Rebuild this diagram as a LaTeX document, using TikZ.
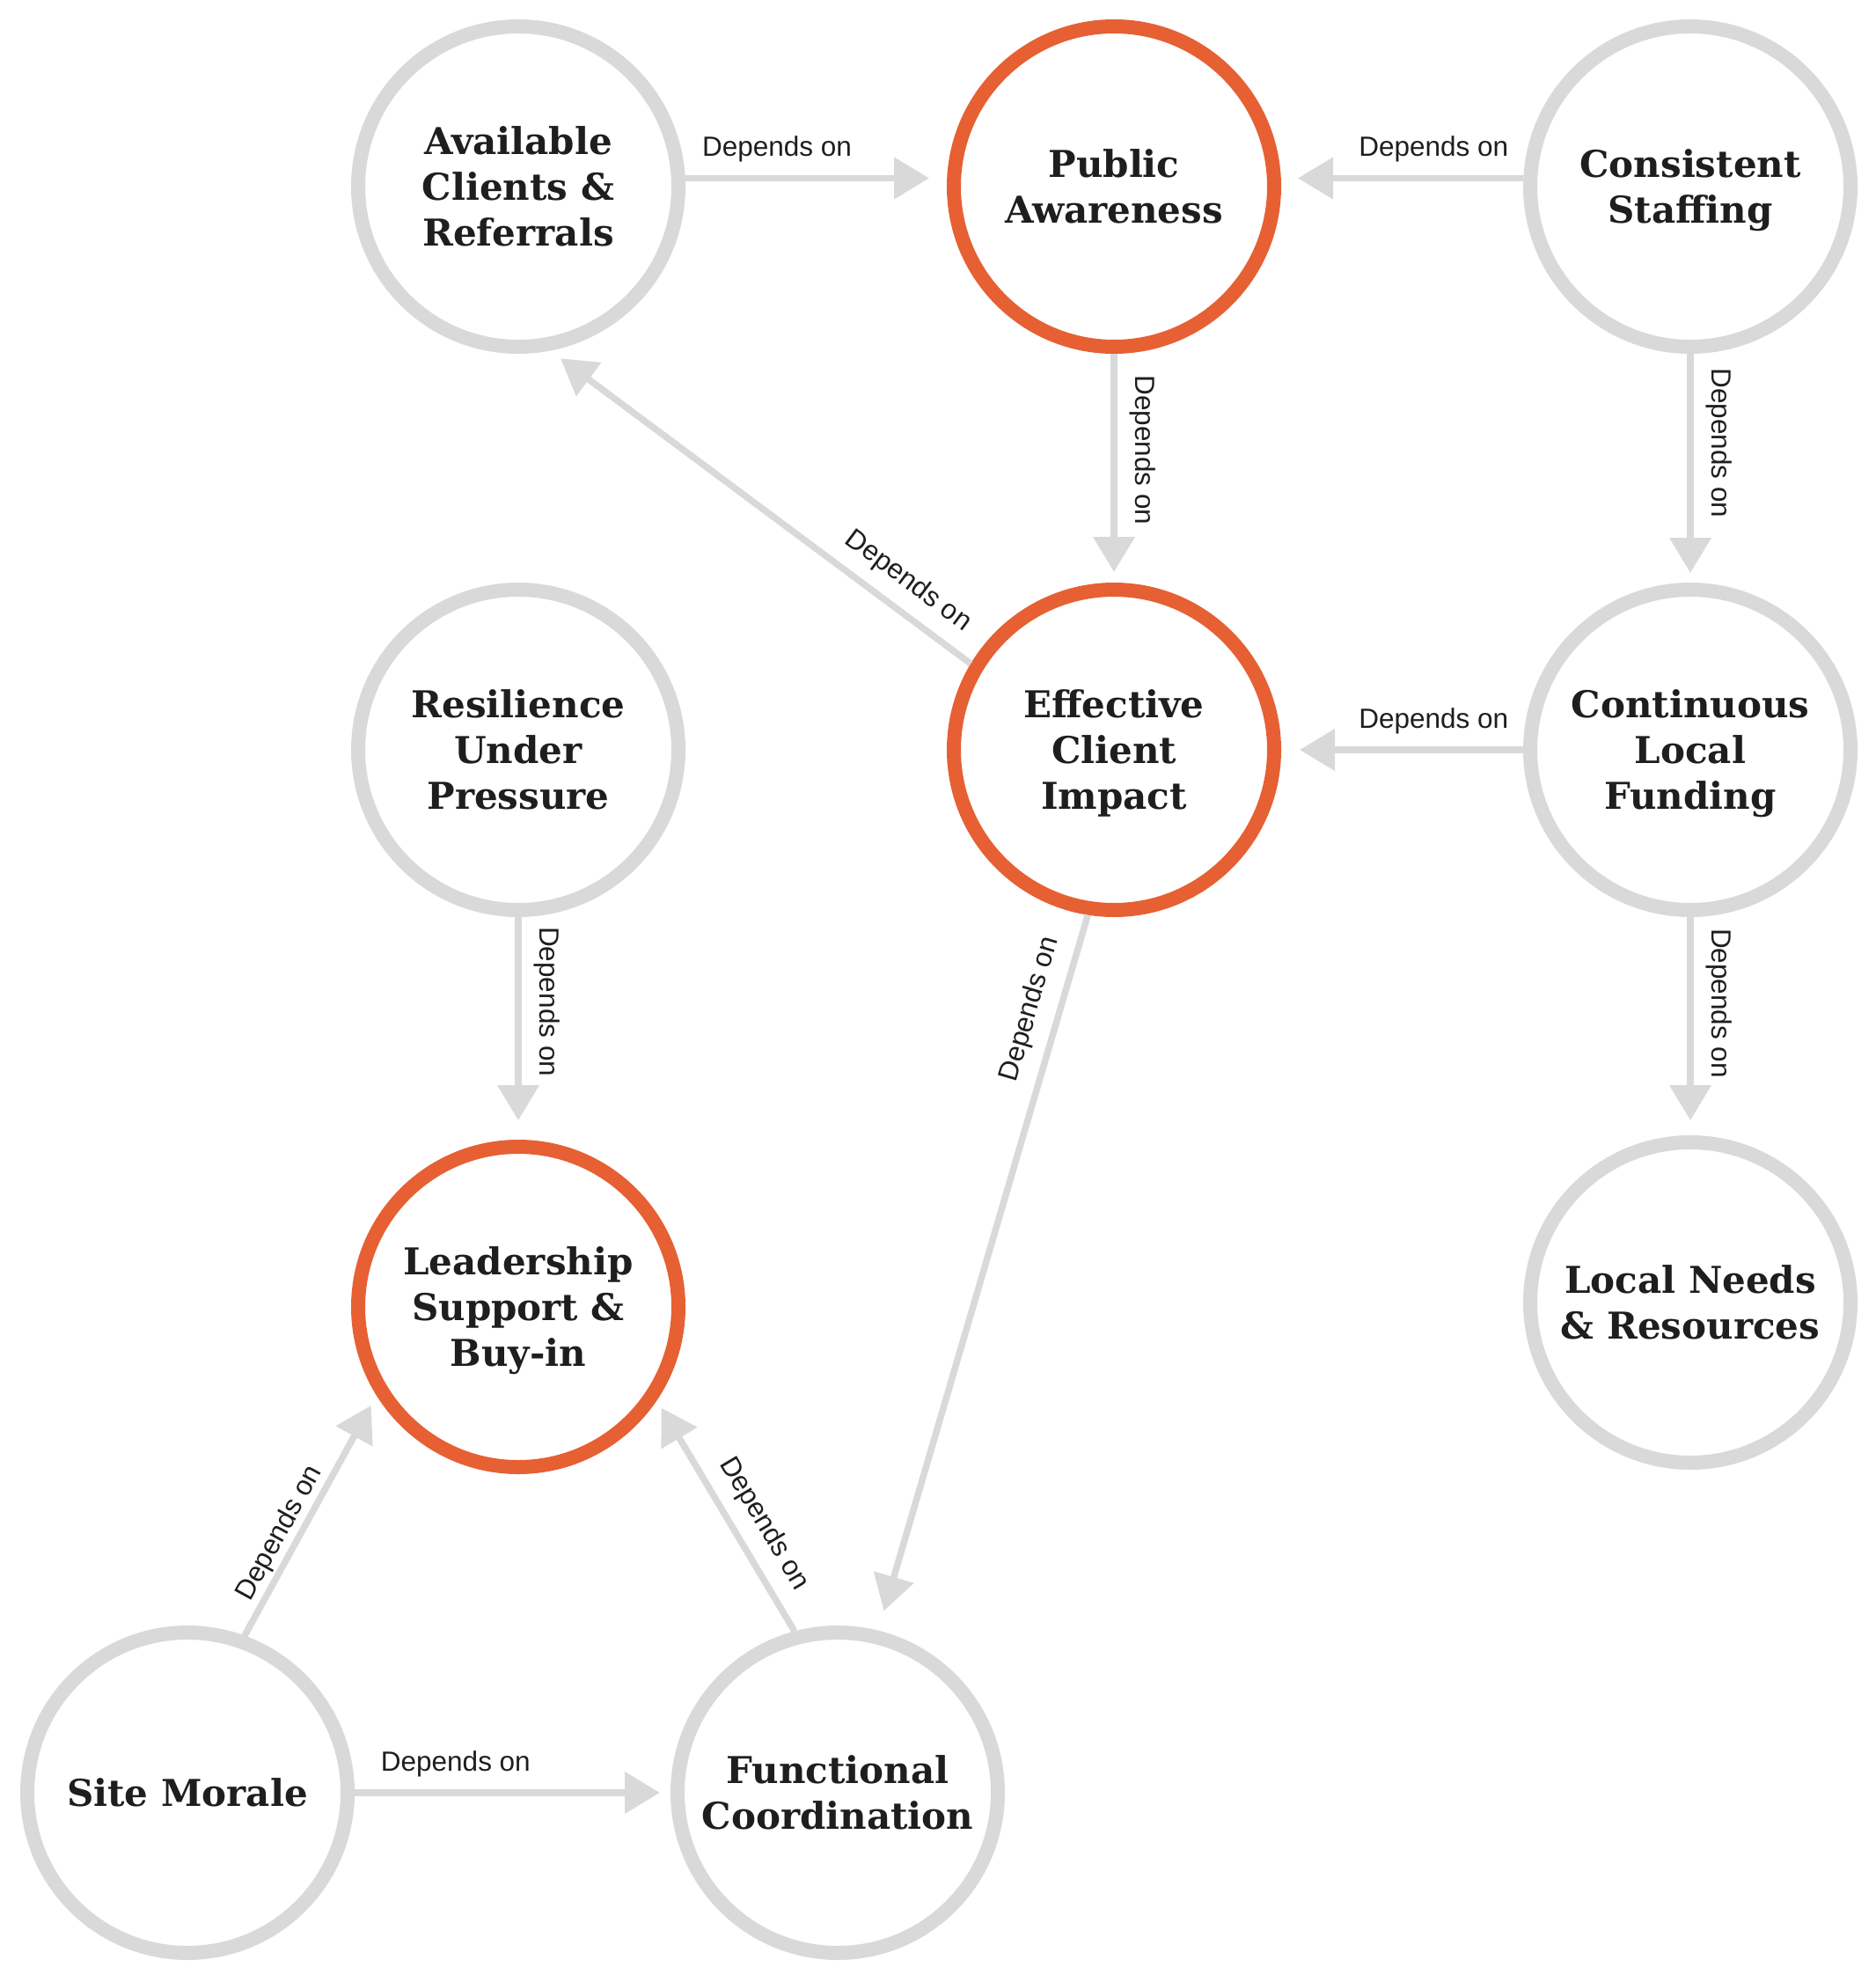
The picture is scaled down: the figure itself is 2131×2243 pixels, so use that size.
\documentclass[tikz,border=0pt]{standalone}
\usepackage{fontspec}
\setmainfont{DejaVu Serif}
\newfontfamily\lblfont{Liberation Sans}
\usetikzlibrary{arrows.meta}
\definecolor{ring}{RGB}{217,217,217}
\definecolor{hot}{RGB}{230,96,51}
\definecolor{ink}{RGB}{30,30,30}
\begin{document}
\begin{tikzpicture}[x=1pt,y=-1pt,
  concept/.style={circle, draw=ring, line width=16pt, minimum size=364pt,
    inner sep=0pt, outer sep=8pt, align=center, text=ink, text depth=0pt,
    font=\fontsize{42}{52}\selectfont\bfseries},
  key/.style={concept, draw=hot},
  dep/.style={draw=ring, line width=7.5pt, -{Triangle[length=40pt,width=46pt]}},
  lbl/.style={font=\lblfont\fontsize{31.5}{36}\selectfont, text=ink,
    inner xsep=0pt, inner ysep=18pt, outer sep=0pt, anchor=south},
]
\useasboundingbox (0,0) rectangle (2131,2243);

\node[concept] (avail)   at (589,212)  {Available\\Clients \&\\Referrals};
\node[key]     (public)  at (1266,212) {Public\\Awareness};
\node[concept] (consist) at (1921,212) {Consistent\\Staffing};
\node[concept] (resil)   at (589,852)  {Resilience\\Under\\Pressure};
\node[key]     (effect)  at (1266,852) {Effective\\Client\\Impact};
\node[concept] (contin)  at (1921,852) {Continuous\\Local\\Funding};
\node[key]     (leader)  at (589,1485) {Leadership\\Support \&\\Buy-in};
\node[concept] (local)   at (1921,1480) {Local Needs\\\& Resources};
\node[concept] (site)    at (213,2037) {Site Morale};
\node[concept] (func)    at (952,2037) {Functional\\Coordination};

% horizontal
\draw[dep, shorten >=20pt] ([yshift=9.5pt]avail.east) -- node[lbl, sloped, pos=0.35] {Depends on} ([yshift=9.5pt]public.west);
\draw[dep, shorten >=19pt] ([yshift=9.5pt]consist.west) -- node[lbl, sloped, pos=0.37] {Depends on} ([yshift=9.5pt]public.east);
\draw[dep, shorten >=21pt] (contin) -- node[lbl, sloped, pos=0.37] {Depends on} (effect);
\draw[dep, shorten >=12pt] (site) -- node[lbl, sloped, pos=0.32] {Depends on} (func);
% vertical
\draw[dep, shorten >=12pt] (public) -- node[lbl, rotate=-90, pos=0.42] {Depends on} (effect);
\draw[dep, shorten >=11pt] (consist) -- node[lbl, rotate=-90, pos=0.39] {Depends on} (contin);
\draw[dep, shorten >=17pt] (contin) -- node[lbl, rotate=-90, pos=0.395] {Depends on} (local);
\draw[dep, shorten >=22pt] (resil) -- node[lbl, rotate=-90, pos=0.38] {Depends on} (leader);
% diagonal
\draw[dep, shorten >=14.7pt] (effect.149.7) -- node[lbl, sloped, pos=0.19] {Depends on} (avail.281.6);
\draw[dep, shorten >=23.2pt] (effect.261.3) -- node[lbl, sloped, pos=0.143] {Depends on} (func.76.5);
\draw[dep, shorten >=12.75pt] (site.70) -- node[lbl, sloped, pos=0.39, inner ysep=6pt] {Depends on} (leader.212.8);
\draw[dep, shorten >=9.85pt] (func.105.2) -- node[lbl, sloped, pos=0.40] {Depends on} (leader.326.3);
\end{tikzpicture}
\end{document}
